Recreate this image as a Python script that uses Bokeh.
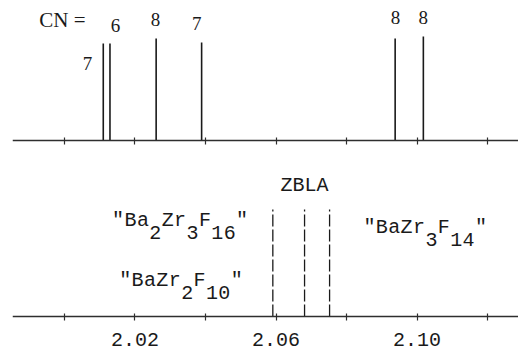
from bokeh.plotting import figure
from bokeh.models import Range1d, LinearAxis, FixedTicker, ColumnDataSource
from bokeh.embed import file_html
from bokeh.resources import INLINE
from bokeh.core.properties import value

# ---------------- data ----------------
# top panel: calculated lines, labelled with coordination number (CN)
cn_positions = [2.0110, 2.0129, 2.0260, 2.0389, 2.0938, 2.1018]
cn_heights = [97, 97, 102, 98, 102, 104]
cn_labels = ["7", "6", "8", "7", "8", "8"]
cn_label_x = [2.0065, 2.0145, 2.0258, 2.0375, 2.0939, 2.1018]
cn_label_y = [77, 115, 121, 117, 123, 123]
cn_title = ["CN ="]
cn_title_x = [1.9994]
cn_title_y = [121]

# bottom panel: ZBLA glass (dashed lines)
zbla_positions = [2.0591, 2.0681, 2.0752]
zbla_heights = [107, 107, 107]
zbla_title = ["ZBLA"]
zbla_title_y = [131]

# phase labels: (run, is_subscript)
phase_labels = [
    [('"Ba', 0), ("2", 1), ("Zr", 0), ("3", 1), ("F", 0), ("16", 1), ('"', 0)],
    [('"BaZr', 0), ("2", 1), ("F", 0), ("10", 1), ('"', 0)],
    [('"BaZr', 0), ("3", 1), ("F", 0), ("14", 1), ('"', 0)],
]
phase_x = [2.0152, 2.0172, 2.0865]
phase_y = [96, 36, 89]

tick_values = [2.00, 2.02, 2.04, 2.06, 2.08, 2.10, 2.12]
tick_labels = ["", "2.02", "", "2.06", "", "2.10", ""]

# ---------------- style / layout ----------------
INK = "#1a1a1a"
MONO = "Liberation Mono"
SERIF = "Liberation Serif"
PITCH = 12.4      # px per character (typewriter font)
SUB_DROP = 12     # px drop for subscripts
TOP_BASE = 176    # location of top panel baseline in bottom-panel units
Y_LO, Y_HI = -32, 316

p = figure(width=518, height=352, output_backend="svg", toolbar_location=None,
           x_range=Range1d(1.98525, 2.12879), y_range=Range1d(Y_LO, Y_HI),
           x_axis_type=None, y_axis_type=None,
           min_border_left=12, min_border_right=0, min_border_top=0, min_border_bottom=4)
p.outline_line_color = None
p.background_fill_color = "white"
p.border_fill_color = "white"
p.extra_y_ranges = {"top": Range1d(Y_LO - TOP_BASE, Y_HI - TOP_BASE)}

for loc, labels in ((0, tick_labels), (TOP_BASE, [""] * len(tick_values))):
    ax = LinearAxis(ticker=FixedTicker(ticks=tick_values), fixed_location=loc)
    ax.major_label_overrides = dict(zip(tick_values, labels))
    ax.axis_line_color = "#2e2e2e"
    ax.axis_line_width = 1.4
    ax.major_tick_line_color = "#2e2e2e"
    ax.major_tick_line_width = 1.2
    ax.major_tick_in = 3
    ax.major_tick_out = 4
    ax.minor_tick_line_color = None
    ax.major_label_text_font = MONO
    ax.major_label_text_font_size = "20px"
    ax.major_label_text_color = INK
    ax.major_label_standoff = 12
    p.add_layout(ax, "below")

# top panel lines
p.segment(x0=cn_positions, y0=[0] * len(cn_positions), x1=cn_positions, y1=cn_heights,
          y_range_name="top", line_color=INK, line_width=1.6)
p.text(x=cn_label_x, y=cn_label_y, text=cn_labels, y_range_name="top",
       text_font=value(SERIF), text_font_size="19px", text_color=INK,
       text_align="center", text_baseline="middle")
p.text(x=cn_title_x, y=cn_title_y, text=cn_title, y_range_name="top",
       text_font=value(SERIF), text_font_size="21px", text_color=INK,
       text_align="center", text_baseline="middle")

# bottom panel dashed lines
p.segment(x0=zbla_positions, y0=[0] * len(zbla_positions), x1=zbla_positions, y1=zbla_heights,
          line_color=INK, line_width=1.3, line_dash="12 3")
p.text(x=[zbla_positions[1]], y=zbla_title_y, text=zbla_title,
       text_font=value(MONO), text_font_size="20px", text_color=INK,
       text_align="center", text_baseline="middle")

# phase labels drawn character by character (subscripts lowered)
cx, cy, ct, cxo, cyo = [], [], [], [], []
for runs, x0, y0 in zip(phase_labels, phase_x, phase_y):
    i = 0
    for run, sub in runs:
        for ch in run:
            cx.append(x0)
            cy.append(y0)
            ct.append(ch)
            cxo.append(i * PITCH)
            cyo.append(SUB_DROP if sub else 0)
            i += 1
src = ColumnDataSource(dict(x=cx, y=cy, text=ct, xo=cxo, yo=cyo))
p.text(x="x", y="y", text="text", x_offset="xo", y_offset="yo", source=src,
       text_font=value(MONO), text_font_size="20px", text_color=INK,
       text_align="center", text_baseline="alphabetic")

open("out.html", "w").write(file_html(p, INLINE))
